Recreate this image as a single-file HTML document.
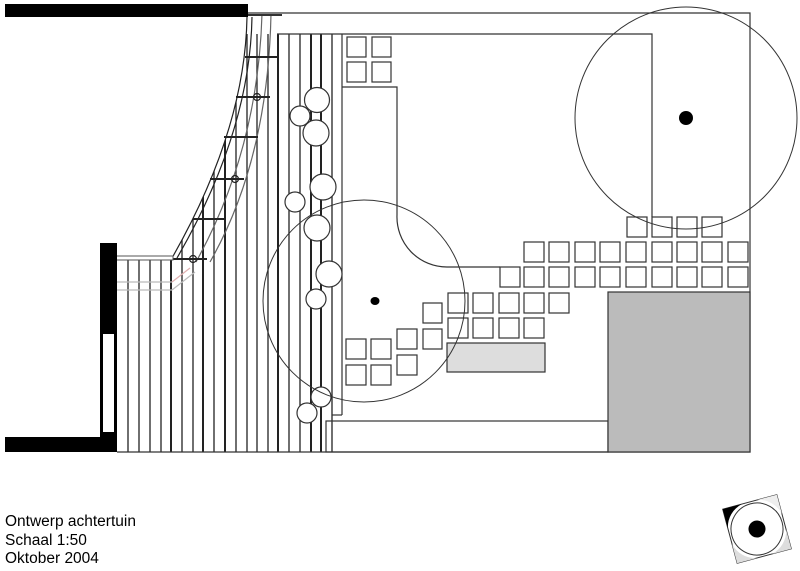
<!DOCTYPE html>
<html><head><meta charset="utf-8"><style>
html,body{margin:0;padding:0;background:#fff;width:800px;height:571px;overflow:hidden}
svg{display:block}
text{font-family:"Liberation Sans",Arial,sans-serif;font-size:15.5px;fill:#000}
</style></head><body>
<svg width="800" height="571" viewBox="0 0 800 571" xmlns="http://www.w3.org/2000/svg">
<rect width="800" height="571" fill="#fff"/>
<g stroke="#222" stroke-width="1.3" fill="none">
<line x1="128" y1="260" x2="128" y2="452"/><line x1="139" y1="260" x2="139" y2="452"/>
<line x1="150" y1="260" x2="150" y2="452"/><line x1="161" y1="260" x2="161" y2="452"/>
<line x1="171" y1="34" x2="171" y2="452" stroke-width="2"/>
<line x1="182" y1="34" x2="182" y2="452"/><line x1="193" y1="34" x2="193" y2="452"/>
<line x1="203" y1="34" x2="203" y2="452" stroke-width="2"/><line x1="214" y1="34" x2="214" y2="452"/>
<line x1="225" y1="34" x2="225" y2="452" stroke-width="2"/><line x1="236" y1="34" x2="236" y2="452"/>
<line x1="247" y1="34" x2="247" y2="452"/><line x1="257" y1="34" x2="257" y2="452"/>
<line x1="268" y1="34" x2="268" y2="452"/><line x1="278" y1="34" x2="278" y2="452" stroke-width="2"/>
<line x1="289" y1="34" x2="289" y2="452"/><line x1="300" y1="34" x2="300" y2="452"/>
<line x1="311" y1="34" x2="311" y2="452" stroke-width="2"/><line x1="321" y1="34" x2="321" y2="452" stroke-width="2"/>
<line x1="332" y1="34" x2="332" y2="452"/>
</g>
<path d="M0,0 L248,0 L247,17 Q245,130 172,258 L0,258 Z" fill="#fff"/>
<g fill="none" stroke="#222" stroke-width="1.2">
<path d="M247,17 Q245,130 172,258"/>
<path d="M252,17 Q250,132 177,258"/>
<path d="M262,14 Q258,150 196,262" stroke="#666"/>
<path d="M271,14 Q268,160 210,262" stroke="#666"/>
<line x1="245" y1="57" x2="277" y2="57" stroke-width="2"/>
<line x1="236" y1="97" x2="270" y2="97" stroke-width="2"/>
<line x1="224" y1="137" x2="258" y2="137" stroke-width="2"/>
<line x1="210" y1="179" x2="244" y2="179" stroke-width="2"/>
<line x1="193" y1="219" x2="226" y2="219" stroke-width="2"/>
<line x1="173" y1="259" x2="207" y2="259" stroke-width="2"/>
<circle cx="257" cy="97" r="3.5"/><circle cx="235" cy="179" r="3.5"/><circle cx="193" cy="259" r="3.5"/>
<line x1="116" y1="282" x2="172" y2="282" stroke="#bbb"/><line x1="116" y1="290" x2="172" y2="290" stroke="#bbb"/>
<line x1="172" y1="282" x2="190" y2="268" stroke="#e0b0b0"/><line x1="172" y1="290" x2="195" y2="272" stroke="#bbb"/>
</g>
<rect x="116" y="256" width="57" height="4" fill="#fff" stroke="#555"/>
<rect x="5" y="4" width="243" height="13" fill="#000"/>
<rect x="100" y="243" width="17" height="209" fill="#000"/>
<rect x="103" y="334" width="11" height="98" fill="#fff"/>
<rect x="5" y="437" width="112" height="15" fill="#000"/>
<g fill="none" stroke="#333" stroke-width="1.2">
<polyline points="248,13 750,13 750,452 117,452"/>
<line x1="248" y1="15" x2="282" y2="15" stroke-width="2"/>
<polyline points="277,34 652,34 652,217"/>
<line x1="342" y1="34" x2="342" y2="415"/>
<polyline points="332,415 342,415"/>
<polyline points="342,87 397,87 397,215"/>
<path d="M397,215 A50,50 0 0 0 447,267 L500,267"/>
<rect x="347" y="37" width="19" height="20"/><rect x="372" y="37" width="19" height="20"/>
<rect x="347" y="62" width="19" height="20"/><rect x="372" y="62" width="19" height="20"/>
<rect x="627" y="217" width="20" height="20"/><rect x="652" y="217" width="20" height="20"/><rect x="677" y="217" width="20" height="20"/><rect x="702" y="217" width="20" height="20"/>
<rect x="524" y="242" width="20" height="20"/><rect x="549" y="242" width="20" height="20"/><rect x="575" y="242" width="20" height="20"/><rect x="600" y="242" width="20" height="20"/><rect x="626" y="242" width="20" height="20"/><rect x="652" y="242" width="20" height="20"/><rect x="677" y="242" width="20" height="20"/><rect x="702" y="242" width="20" height="20"/><rect x="728" y="242" width="20" height="20"/>
<rect x="500" y="267" width="20" height="20"/><rect x="524" y="267" width="20" height="20"/><rect x="549" y="267" width="20" height="20"/><rect x="575" y="267" width="20" height="20"/><rect x="600" y="267" width="20" height="20"/><rect x="626" y="267" width="20" height="20"/><rect x="652" y="267" width="20" height="20"/><rect x="677" y="267" width="20" height="20"/><rect x="702" y="267" width="20" height="20"/><rect x="728" y="267" width="20" height="20"/>
<rect x="448" y="293" width="20" height="20"/><rect x="473" y="293" width="20" height="20"/><rect x="499" y="293" width="20" height="20"/><rect x="524" y="293" width="20" height="20"/><rect x="549" y="293" width="20" height="20"/>
<rect x="448" y="318" width="20" height="20"/><rect x="473" y="318" width="20" height="20"/><rect x="499" y="318" width="20" height="20"/><rect x="524" y="318" width="20" height="20"/>
<rect x="423" y="303" width="19" height="20"/><rect x="423" y="329" width="19" height="20"/>
<rect x="397" y="329" width="20" height="20"/><rect x="397" y="355" width="20" height="20"/>
<rect x="346" y="339" width="20" height="20"/><rect x="371" y="339" width="20" height="20"/>
<rect x="346" y="365" width="20" height="20"/><rect x="371" y="365" width="20" height="20"/>
<rect x="447" y="343" width="98" height="29" fill="#ddd"/>
<rect x="326" y="421" width="282" height="31"/>
<rect x="608" y="292" width="142" height="160" fill="#bbb"/>
</g>
<g fill="#fff" stroke="#333" stroke-width="1.2">
<circle cx="317" cy="100" r="12.5"/><circle cx="300" cy="116" r="10"/><circle cx="316" cy="133" r="13"/>
<circle cx="323" cy="187" r="13"/><circle cx="295" cy="202" r="10"/><circle cx="317" cy="228" r="13"/>
<circle cx="329" cy="274" r="13"/><circle cx="316" cy="299" r="10"/>
<circle cx="321" cy="397" r="10"/><circle cx="307" cy="413" r="10"/>
</g>
<g fill="none" stroke="#333" stroke-width="1">
<circle cx="686" cy="118" r="111"/>
<circle cx="364" cy="301" r="101"/>
</g>
<circle cx="686" cy="118" r="7" fill="#000"/>
<ellipse cx="375" cy="301" rx="4.5" ry="4" fill="#000"/>
<g transform="translate(757,529) rotate(-15)">
<rect x="-28" y="-28" width="56" height="56" fill="#fff" stroke="#333"/>
<path d="M-28,-28 L-8,-28 A26,26 0 0 0 -28,-8 Z" fill="#000"/>
<path d="M28,28 L8,28 A26,26 0 0 0 28,8 Z" fill="#ddd"/>
<path d="M28,-28 L8,-28 A26,26 0 0 1 28,-8 Z" fill="#eee"/>
<path d="M-28,28 L-8,28 A26,26 0 0 1 -28,8 Z" fill="#ddd"/>
<circle r="26" fill="#fff" stroke="#333"/>
<circle r="8.5" fill="#000"/>
</g>
<text x="5" y="526">Ontwerp achtertuin</text>
<text x="5" y="545">Schaal 1:50</text>
<text x="5" y="563">Oktober 2004</text>
</svg>
</body></html>
